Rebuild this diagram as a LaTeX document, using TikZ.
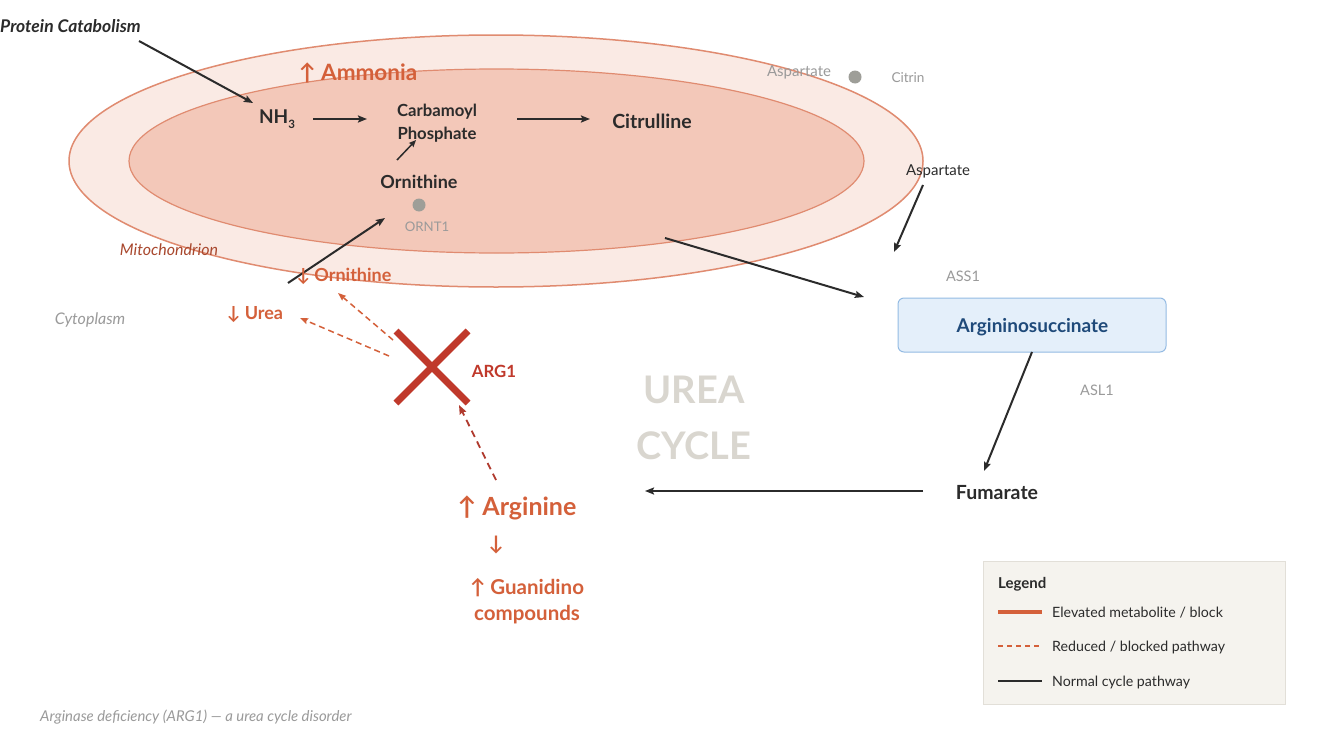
\documentclass[tikz,border=0pt]{standalone}
\usepackage{fontspec}
\setmainfont{Lato}
\usetikzlibrary{arrows.meta}

\definecolor{ink}{HTML}{2B2B2B}
\definecolor{hot}{HTML}{D4603A}
\definecolor{blockred}{HTML}{C0392B}
\definecolor{dashred}{HTML}{B03A2E}
\definecolor{muted}{HTML}{9A9A9A}
\definecolor{dotgrey}{HTML}{9E9E98}
\definecolor{mitotext}{HTML}{A9482E}
\definecolor{outerfill}{HTML}{FAEAE4}
\definecolor{innerfill}{HTML}{F3C8B9}
\definecolor{mitoedge}{HTML}{E08B70}
\definecolor{watermark}{HTML}{D9D6CF}
\definecolor{boxfill}{HTML}{E4EFFA}
\definecolor{boxedge}{HTML}{94BBE3}
\definecolor{boxtext}{HTML}{1F4A7A}
\definecolor{legfill}{HTML}{F5F3EE}
\definecolor{legedge}{HTML}{E2DFD8}

\newcommand\fsz[2]{\fontsize{#1}{#2}\selectfont}

\tikzset{
  flow/.style={draw=ink, line width=2pt, -{Stealth[length=9pt,width=7pt,inset=1.5pt]}},
  smallflow/.style={draw=ink, line width=1.5pt, -{Stealth[length=7pt,width=6pt,inset=1pt]}},
  lost/.style={draw=hot, line width=1.5pt, dash pattern=on 6pt off 4pt, -{Stealth[length=8pt,width=6pt,inset=1pt]}},
  lostred/.style={draw=dashred, line width=1.8pt, dash pattern=on 7pt off 5pt, -{Stealth[length=9pt,width=7pt,inset=1pt]}},
  metab/.style={inner sep=0pt, text=ink, font=\bfseries\fsz{17}{21}, align=center},
  alert/.style={inner sep=0pt, text=hot, font=\bfseries\fsz{17}{21}, align=center},
  enzyme/.style={inner sep=0pt, text=muted, font=\fsz{15}{18}},
  region/.style={inner sep=0pt, font=\itshape\fsz{16}{19}},
  legtext/.style={inner sep=0pt, anchor=west, text=ink, font=\fsz{14.2}{17}},
}

\begin{document}
\begin{tikzpicture}[x=1pt,y=-1pt]
\useasboundingbox[fill=white] (0,0) rectangle (1324,744);

% mitochondrion: outer and inner membranes
\draw[mitoedge, line width=1.5pt, fill=outerfill] (496,161) ellipse [x radius=427, y radius=126];
\draw[mitoedge, line width=1.2pt, fill=innerfill] (496.5,161) ellipse [x radius=367.5, y radius=92];

% watermark
\node[inner sep=0pt, text=watermark, font=\bfseries\fsz{38}{56}, align=center] (uc) at (694,418) {UREA\\CYCLE};

% region labels
\node[region, text=mitotext] (mito) at (169,250) {Mitochondrion};
\node[region, text=muted] (cyto) at (90,320) {Cytoplasm};

% matrix reactions
\node[inner sep=0pt, anchor=west, text=ink, font=\bfseries\itshape\fsz{17.5}{21}] (prot) at (0,26.5) {Protein Catabolism};
\node[metab, font=\bfseries\fsz{19}{22}] (nh3) at (277,119) {NH\raisebox{-5pt}{\fsz{11.5}{12}3}};
\node[metab, font=\bfseries\fsz{16.7}{23}] (carb) at (437,123.5) {Carbamoyl\\Phosphate};
\node[metab, font=\bfseries\fsz{19.5}{22}] (cit) at (652,121.5) {Citrulline};
\node[metab, font=\bfseries\fsz{18}{20}] (orn) at (419,181.5) {Ornithine};
\node[alert, font=\bfseries\fsz{22.5}{26}] (amm) at (358,73) {↑ Ammonia};

\coordinate (protout) at (139,41);
\coordinate (nh3in) at (253,103);
\coordinate (nh3out) at (313,119);
\coordinate (carbin) at (367,119);
\coordinate (carbout) at (517,119);
\coordinate (citin) at (590,119);
\coordinate (ornout) at (397,160);
\coordinate (carbbelow) at (416,140);
\draw[flow] (protout) -- (nh3in);
\draw[flow] (nh3out) -- (carbin);
\draw[flow] (carbout) -- (citin);
\draw[smallflow] (ornout) -- (carbbelow);

% transporters
\fill[dotgrey] (419,205) circle [radius=6.5];
\node[enzyme, font=\fsz{13.2}{15}] (ornt) at (427,227) {ORNT1};
\node[enzyme] (asptop) at (799,72) {Aspartate};
\fill[dotgrey] (855,77) circle [radius=6.5];
\node[enzyme, font=\fsz{13.6}{15}] (citrin) at (908,78) {Citrin};

% cytosolic reactions
\node[inner sep=0pt, text=ink, font=\fsz{15}{18}] (asp) at (938,171) {Aspartate};
\node[enzyme, font=\fsz{14.5}{17}] (ass) at (963,276) {ASS1};
\node[draw=boxedge, line width=1pt, fill=boxfill, rounded corners=6pt,
      minimum width=268pt, minimum height=54pt, inner sep=0pt] (asa) at (1032,325) {};
\node[inner sep=0pt, text=boxtext, font=\bfseries\fsz{19}{22}] (asatext) at (1032.5,327.5) {Argininosuccinate};
\node[enzyme, font=\fsz{14.5}{17}] (asl) at (1097,390) {ASL1};
\node[metab, font=\bfseries\fsz{19.5}{22}] (fum) at (997,492.5) {Fumarate};
\node[alert, font=\bfseries\fsz{25}{30}] (arg) at (517,507.5) {↑ Arginine};
\node[alert, font=\bfseries\fsz{20}{24}] (down) at (496,545) {↓};
\node[alert, font=\bfseries\fsz{20.5}{26}] (guan) at (527,601) {↑ Guanidino\\compounds};

\coordinate (citout) at (665,238);
\coordinate (asain) at (864,297);
\coordinate (aspout) at (923,185);
\coordinate (aspin) at (894,252);
\coordinate (asaout) at (1032,352);
\coordinate (fumin) at (984,471);
\coordinate (fumout) at (923,491);
\coordinate (argin) at (645,491);
\coordinate (ornstart) at (288,283);
\coordinate (ornin) at (385,218);
\draw[flow] (citout) -- (asain);
\draw[flow] (aspout) -- (aspin);
\draw[flow] (asaout) -- (fumin);
\draw[flow] (fumout) -- (argin);
\draw[flow] (ornstart) -- (ornin);

% ARG1 block and its lost products
\node[alert, font=\bfseries\fsz{18}{21}] (ornlow) at (344,276) {↓ Ornithine};
\node[alert, font=\bfseries\fsz{18}{21}] (urea) at (255,315) {↓ Urea};
\draw[blockred, line width=7pt] (396,331) -- (468,403) (396,403) -- (468,331);
\node[inner sep=0pt, text=blockred, font=\bfseries\fsz{16.8}{20}] (arg1) at (494,371) {ARG1};

\coordinate (argup) at (496,480);
\coordinate (xin) at (459,405);
\coordinate (xout1) at (389,356);
\coordinate (ureain) at (300,318);
\coordinate (xout2) at (393,340);
\coordinate (ornlowin) at (338,293);
\draw[lostred] (argup) -- (xin);
\draw[lost] (xout1) -- (ureain);
\draw[lost] (xout2) -- (ornlowin);

% legend
\node[draw=legedge, line width=1pt, fill=legfill, minimum width=302pt, minimum height=143pt,
      inner sep=0pt] (leg) at (1134,632.5) {};
\node[inner sep=0pt, anchor=west, text=ink, font=\bfseries\fsz{15}{18}] (legtitle) at (998,584) {Legend};
\coordinate (l1a) at (998,612); \coordinate (l1b) at (1042,612);
\coordinate (l2a) at (998,646); \coordinate (l2b) at (1042,646);
\coordinate (l3a) at (998,681); \coordinate (l3b) at (1042,681);
\draw[hot, line width=4pt] (l1a) -- (l1b);
\draw[hot, line width=1.5pt, dash pattern=on 5pt off 4pt] (l2a) -- (l2b);
\draw[ink, line width=2.5pt] (l3a) -- (l3b);
\node[legtext] (lt1) at (1052,613) {Elevated metabolite / block};
\node[legtext] (lt2) at (1052,647) {Reduced / blocked pathway};
\node[legtext] (lt3) at (1052,682) {Normal cycle pathway};

% caption
\node[inner sep=0pt, anchor=west, text=muted, font=\itshape\fsz{14.9}{17}] (cap) at (40,717) {Arginase deficiency (ARG1) — a urea cycle disorder};
\end{tikzpicture}
\end{document}
